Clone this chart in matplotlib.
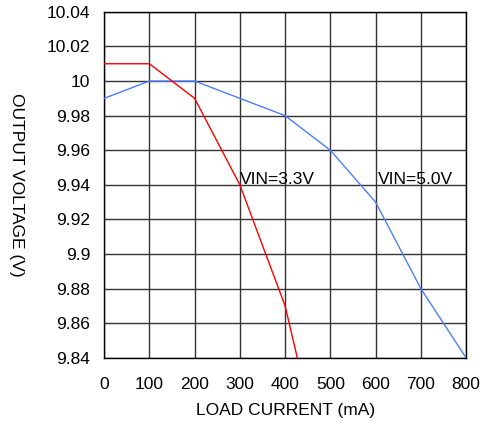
import matplotlib
matplotlib.use("Agg")
import matplotlib.pyplot as plt

plt.rcParams['font.family'] = ['Liberation Sans', 'DejaVu Sans']

x_33 = [0, 100, 200, 300, 400, 427]
v_33 = [10.01, 10.01, 9.99, 9.94, 9.87, 9.84]
x_50 = [0, 100, 200, 300, 400, 500, 600, 700, 800]
v_50 = [9.99, 10.0, 10.0, 9.99, 9.98, 9.96, 9.93, 9.88, 9.84]
xticks = [0, 100, 200, 300, 400, 500, 600, 700, 800]
yticks = [9.84, 9.86, 9.88, 9.9, 9.92, 9.94, 9.96, 9.98, 10.0, 10.02, 10.04]
ytick_labels = ["9.84", "9.86", "9.88", "9.9", "9.92", "9.94", "9.96", "9.98", "10", "10.02", "10.04"]

fig = plt.figure(figsize=(4.82, 4.23), dpi=100)
ax = fig.add_axes([0.216, 0.154, 0.751, 0.818])
ax.plot(x_50, v_50, color='#4a7fff', lw=1.0, zorder=3)
ax.plot(x_33, v_33, color='#ff0000', lw=1.0, zorder=3)
ax.set_xlim(0, 800)
ax.set_ylim(9.84, 10.04)
ax.set_xticks(xticks)
ax.set_yticks(yticks)
ax.set_yticklabels(ytick_labels)
ax.grid(True, color='#333333', lw=1.0)
ax.tick_params(axis='y', length=0, labelsize=12.5, pad=10)
ax.tick_params(axis='x', length=0, labelsize=12.5, pad=14)
for s in ax.spines.values():
    s.set_color('black')
    s.set_linewidth(1.0)
ax.set_xlabel("LOAD CURRENT (mA)", fontsize=12.5, labelpad=7.5)
ax.set_ylabel("OUTPUT VOLTAGE (V)", fontsize=12.5, rotation=-90, va='center')
ax.yaxis.set_label_coords(-0.243, 0.5)
ax.text(300, 9.943, "VIN=3.3V", fontsize=12.5, va='center', ha='left')
ax.text(605, 9.943, "VIN=5.0V", fontsize=12.5, va='center', ha='left')
fig.savefig("out.png", dpi=100)
